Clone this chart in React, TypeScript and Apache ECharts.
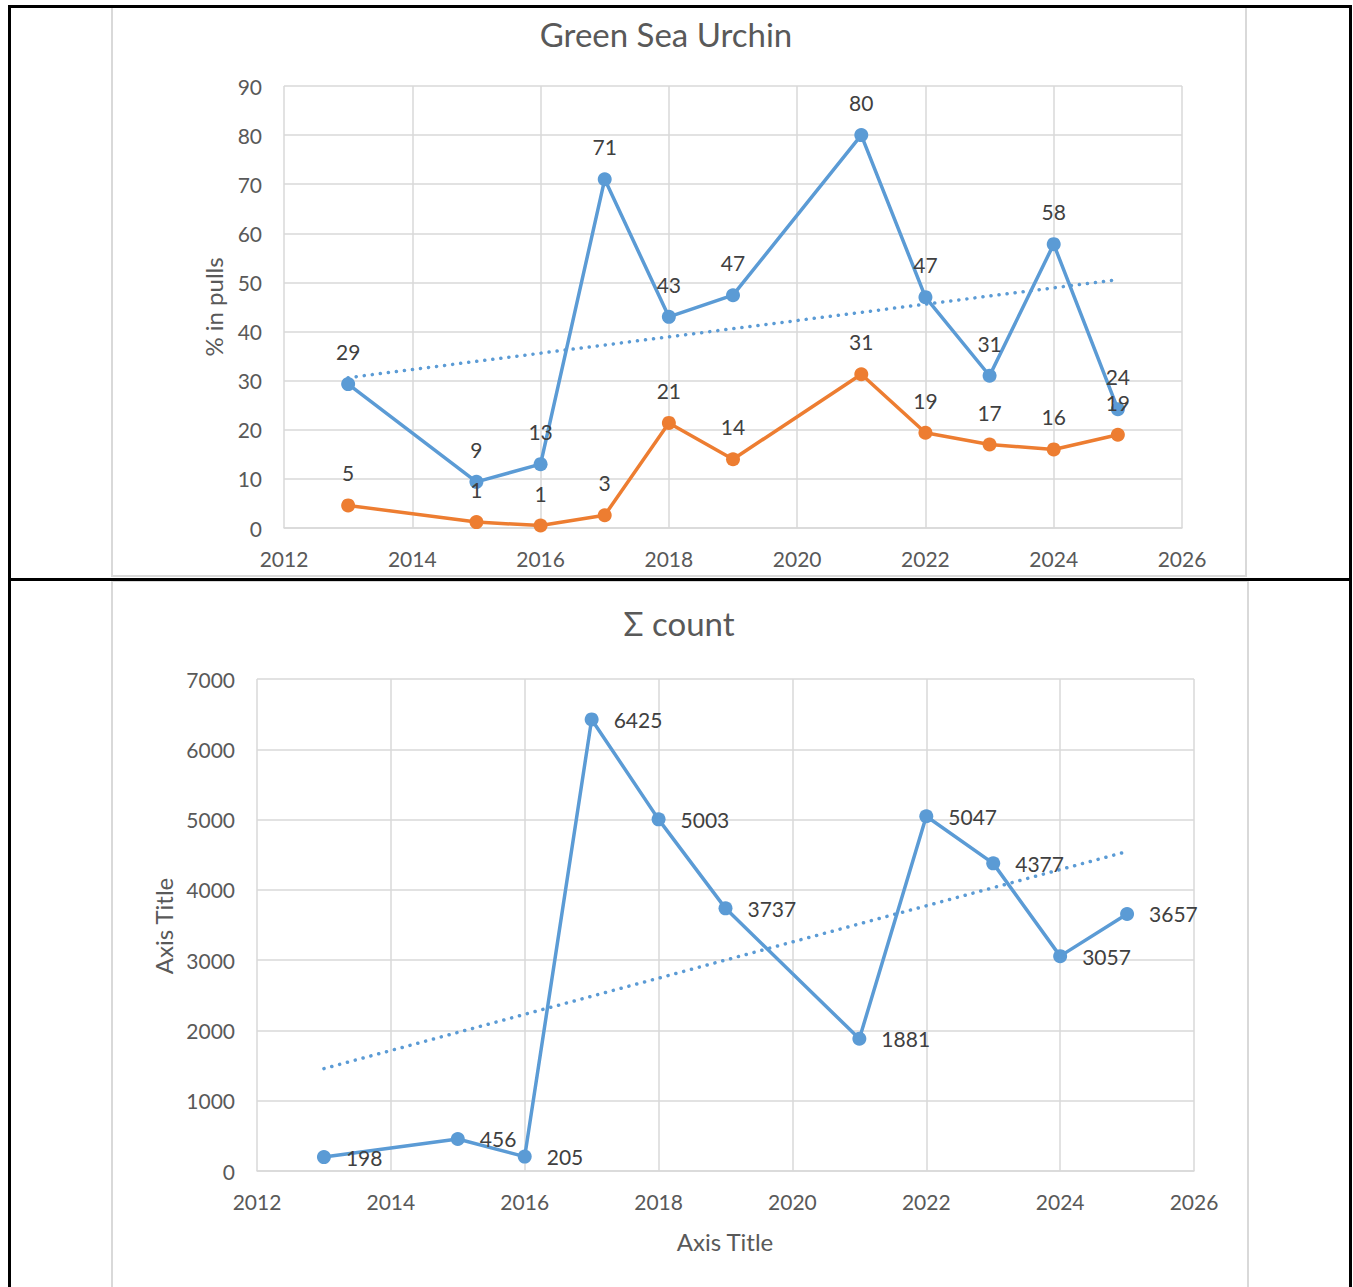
import React, { useEffect, useRef } from "react";
import * as echarts from "echarts";

// Top chart: Green Sea Urchin (% in pulls)
const topYears = [2013, 2015, 2016, 2017, 2018, 2019, 2021, 2022, 2023, 2024, 2025];
const topBlue = [29.3, 9.4, 13, 71, 43, 47.4, 80, 47, 31, 57.8, 24.2];
const topOrange = [4.6, 1.2, 0.5, 2.6, 21.4, 14, 31.3, 19.4, 17, 16, 19];

// Bottom chart: Σ count
const botYears = [2013, 2015, 2016, 2017, 2018, 2019, 2021, 2022, 2023, 2024, 2025];
const botCount = [198, 456, 205, 6425, 5003, 3737, 1881, 5047, 4377, 3057, 3657];

const topTitle = "Green Sea Urchin";
const botTitle = "Σ count";
const topYName = "% in pulls";
const botYName = "Axis Title";
const botXName = "Axis Title";

const BLUE = "#5B9BD5";
const ORANGE = "#ED7D31";
const GRID = "#D9D9D9";
const TICK = "#595959";
const LABEL = "#404040";
const FONT = "Lato, 'Open Sans', sans-serif";

function trend(xs: number[], ys: number[]): number[][] {
  const n = xs.length;
  const mx = xs.reduce((a, b) => a + b, 0) / n;
  const my = ys.reduce((a, b) => a + b, 0) / n;
  let sxy = 0;
  let sxx = 0;
  for (let i = 0; i < n; i++) {
    sxy += (xs[i] - mx) * (ys[i] - my);
    sxx += (xs[i] - mx) * (xs[i] - mx);
  }
  const b = sxy / sxx;
  const a = my - b * mx;
  const x0 = xs[0];
  const x1 = xs[n - 1];
  return [
    [x0, a + b * x0],
    [x1, a + b * x1],
  ];
}

const pairs = (xs: number[], ys: number[]) => xs.map((x, i) => [x, ys[i]]);

export default function App() {
  const ref = useRef<HTMLDivElement>(null);
  useEffect(() => {
    if (!ref.current) return;
    const chart = echarts.init(ref.current, undefined, { renderer: "svg" });

    const xAxisBase = (gridIndex: number) => ({
      type: "value" as const,
      gridIndex,
      min: 2012,
      max: 2026,
      interval: 2,
      axisLine: { show: true, lineStyle: { color: GRID, width: 1.5 } },
      axisTick: { show: false },
      splitLine: { show: true, lineStyle: { color: GRID, width: 1.5 } },
      axisLabel: { color: TICK, fontSize: 21, fontFamily: FONT, margin: 20, formatter: (v: number) => String(v) },
    });
    const yAxisBase = (gridIndex: number, max: number, interval: number) => ({
      type: "value" as const,
      gridIndex,
      min: 0,
      max,
      interval,
      axisLine: { show: false },
      axisTick: { show: false },
      splitLine: { show: true, lineStyle: { color: GRID, width: 1.5 } },
      axisLabel: { color: TICK, fontSize: 21, fontFamily: FONT, margin: 22, formatter: (v: number) => String(v) },
    });

    const dataLabel = (pos: string, dist: number) => ({
      show: true,
      position: pos,
      distance: dist,
      color: LABEL,
      fontSize: 21,
      fontFamily: FONT,
      formatter: (p: any) => String(Math.round(p.value[1])),
    });

    chart.setOption({
      animation: false,
      backgroundColor: "#ffffff",
      grid: [
        { left: 284, right: 1353 - 1182, top: 86, bottom: 1287 - 528 },
        { left: 257, right: 1353 - 1194, top: 679, bottom: 1287 - 1171 },
      ],
      xAxis: [xAxisBase(0), xAxisBase(1)],
      yAxis: [yAxisBase(0, 90, 10), yAxisBase(1, 7000, 1000)],
      series: [
        {
          type: "line",
          name: "trend blue",
          xAxisIndex: 0,
          yAxisIndex: 0,
          data: trend(topYears, topBlue),
          symbol: "none",
          silent: true,
          lineStyle: { color: BLUE, width: 3.5, type: [0.1, 8], cap: "round" },
          z: 1,
        },
        {
          type: "line",
          name: "blue",
          xAxisIndex: 0,
          yAxisIndex: 0,
          data: pairs(topYears, topBlue),
          symbol: "circle",
          symbolSize: 14,
          itemStyle: { color: BLUE },
          lineStyle: { color: BLUE, width: 3.5 },
          label: dataLabel("top", 15),
          z: 3,
        },
        {
          type: "line",
          name: "orange",
          xAxisIndex: 0,
          yAxisIndex: 0,
          data: pairs(topYears, topOrange),
          symbol: "circle",
          symbolSize: 14,
          itemStyle: { color: ORANGE },
          lineStyle: { color: ORANGE, width: 3.5 },
          label: dataLabel("top", 15),
          z: 4,
        },
        {
          type: "line",
          name: "trend count",
          xAxisIndex: 1,
          yAxisIndex: 1,
          data: trend(botYears, botCount),
          symbol: "none",
          silent: true,
          lineStyle: { color: BLUE, width: 3.5, type: [0.1, 8], cap: "round" },
          z: 1,
        },
        {
          type: "line",
          name: "count",
          xAxisIndex: 1,
          yAxisIndex: 1,
          data: pairs(botYears, botCount),
          symbol: "circle",
          symbolSize: 14,
          itemStyle: { color: BLUE },
          lineStyle: { color: BLUE, width: 3.5 },
          label: dataLabel("right", 15),
          z: 3,
        },
      ],
      graphic: [
        // chart frames (light gray)
        {
          type: "rect",
          shape: { x: 112, y: 7, width: 1134, height: 569 },
          style: { fill: "none", stroke: GRID, lineWidth: 2 },
          silent: true,
          z: -10,
        },
        {
          type: "rect",
          shape: { x: 112, y: 581, width: 1136, height: 720 },
          style: { fill: "none", stroke: GRID, lineWidth: 2 },
          silent: true,
          z: -10,
        },
        // table borders (black)
        { type: "line", shape: { x1: 9.5, y1: 6.5, x2: 1350.5, y2: 6.5 }, style: { stroke: "#000", lineWidth: 3 }, silent: true, z: 10 },
        { type: "line", shape: { x1: 9.5, y1: 5, x2: 9.5, y2: 1287 }, style: { stroke: "#000", lineWidth: 3 }, silent: true, z: 10 },
        { type: "line", shape: { x1: 1350.5, y1: 5, x2: 1350.5, y2: 1287 }, style: { stroke: "#000", lineWidth: 3 }, silent: true, z: 10 },
        { type: "line", shape: { x1: 9.5, y1: 579.5, x2: 1350.5, y2: 579.5 }, style: { stroke: "#000", lineWidth: 3 }, silent: true, z: 10 },
        // titles
        {
          type: "text",
          x: 666,
          y: 34,
          style: { text: topTitle, fill: TICK, fontSize: 33, fontFamily: FONT, align: "center", verticalAlign: "middle" },
        },
        {
          type: "text",
          x: 679,
          y: 623,
          style: { text: botTitle, fill: TICK, fontSize: 33, fontFamily: FONT, align: "center", verticalAlign: "middle" },
        },
        // axis titles
        {
          type: "text",
          x: 213,
          y: 307,
          rotation: Math.PI / 2,
          style: { text: topYName, fill: TICK, fontSize: 24, fontFamily: FONT, align: "center", verticalAlign: "middle" },
        },
        {
          type: "text",
          x: 163,
          y: 926,
          rotation: Math.PI / 2,
          style: { text: botYName, fill: TICK, fontSize: 24, fontFamily: FONT, align: "center", verticalAlign: "middle" },
        },
        {
          type: "text",
          x: 725,
          y: 1241,
          style: { text: botXName, fill: TICK, fontSize: 24, fontFamily: FONT, align: "center", verticalAlign: "middle" },
        },
      ],
    });
    return () => chart.dispose();
  }, []);
  return (
    <div
      ref={ref}
      style={{ position: "absolute", left: 0, top: 0, width: 1353, height: 1287, background: "#fff" }}
    />
  );
}
